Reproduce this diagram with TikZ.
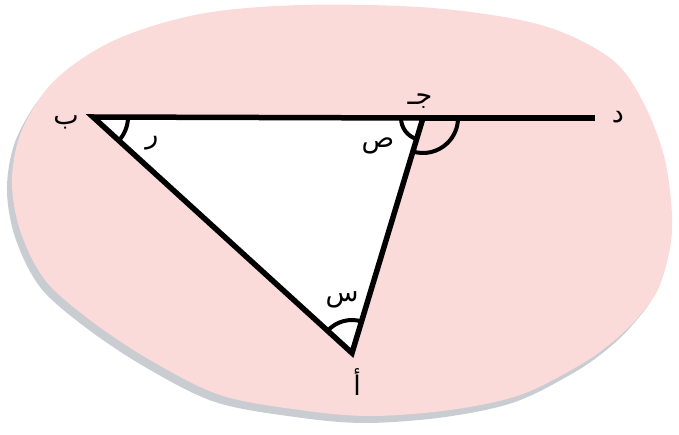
\documentclass[tikz,border=0pt]{standalone}
\usepackage{fontspec}
\newfontfamily\arabicfont[Script=Arabic]{DejaVu Sans}
\TeXXeTstate=1
\usetikzlibrary{calc}
\definecolor{cPink}{HTML}{FBDADA}
\definecolor{cShadow}{HTML}{C9CDD2}

\begin{document}
\begin{tikzpicture}[
  x=1pt, y=1pt,
  side/.style={line width=5.5pt, line join=miter, black},
  angarc/.style={line width=4pt, black},
  lbl/.style={font=\fontsize{27}{27}\selectfont\arabicfont, inner sep=0pt},
]
\useasboundingbox (0,0) rectangle (679,-435);

% ── backdrop ──────────────────────────────────────────────────────────────
\def\blob{(303,-5) (433,-8) (541,-25) (610,-58) (642,-100) (665,-160) (672,-230)
  (660,-285) (640,-315) (615,-340) (580,-365) (520,-395) (450,-410) (370,-416)
  (300,-410) (220,-395) (150,-360) (90,-320) (45,-280) (20,-230) (12,-180)
  (22,-130) (55,-80) (115,-40) (200,-14)}
\fill[cShadow, shift={(-5,-7)}] plot[smooth cycle, tension=0.55] coordinates {\blob};
\fill[cPink] plot[smooth cycle, tension=0.55] coordinates {\blob};

% ── points ────────────────────────────────────────────────────────────────
\coordinate (B) at (93,-117);
\coordinate (J) at (423,-118);
\coordinate (A) at (352,-353);
\coordinate (D) at (595,-118);

% ── triangle and ray ──────────────────────────────────────────────────────
\fill[white] (B) -- (J) -- (A) -- cycle;
\draw[side] (J) -- (D);
\draw[side] (A) -- (B) -- (J) -- cycle;

% ── angle marks ───────────────────────────────────────────────────────────
\draw[angarc] ($(B)+(35,0)$) arc[start angle=0, end angle=-42.3, radius=35];
\draw[angarc] ($(A)+(73.2:33)$) arc[start angle=73.2, end angle=137.7, radius=33];
\draw[angarc] ($(J)+(180:22)$) arc[start angle=180, end angle=253.2, radius=22];
\draw[angarc] ($(J)+(253.2:35)$) arc[start angle=253.2, end angle=360, radius=35];

% ── labels ────────────────────────────────────────────────────────────────
\node[lbl] (lB) at (66,-122) {\beginR ب\endR};
\node[lbl] (lJ) at (420,-101) {\beginR جـ\endR};
\node[lbl] (lD) at (618,-117) {\beginR د\endR};
\node[lbl] (lA) at (357,-382) {\beginR أ\endR};
\node[lbl] (lr) at (152,-143) {\beginR ر\endR};
\node[lbl] (ls) at (378,-146) {\beginR ص\endR};
\node[lbl] (lx) at (342,-300) {\beginR س\endR};
\end{tikzpicture}
\end{document}
